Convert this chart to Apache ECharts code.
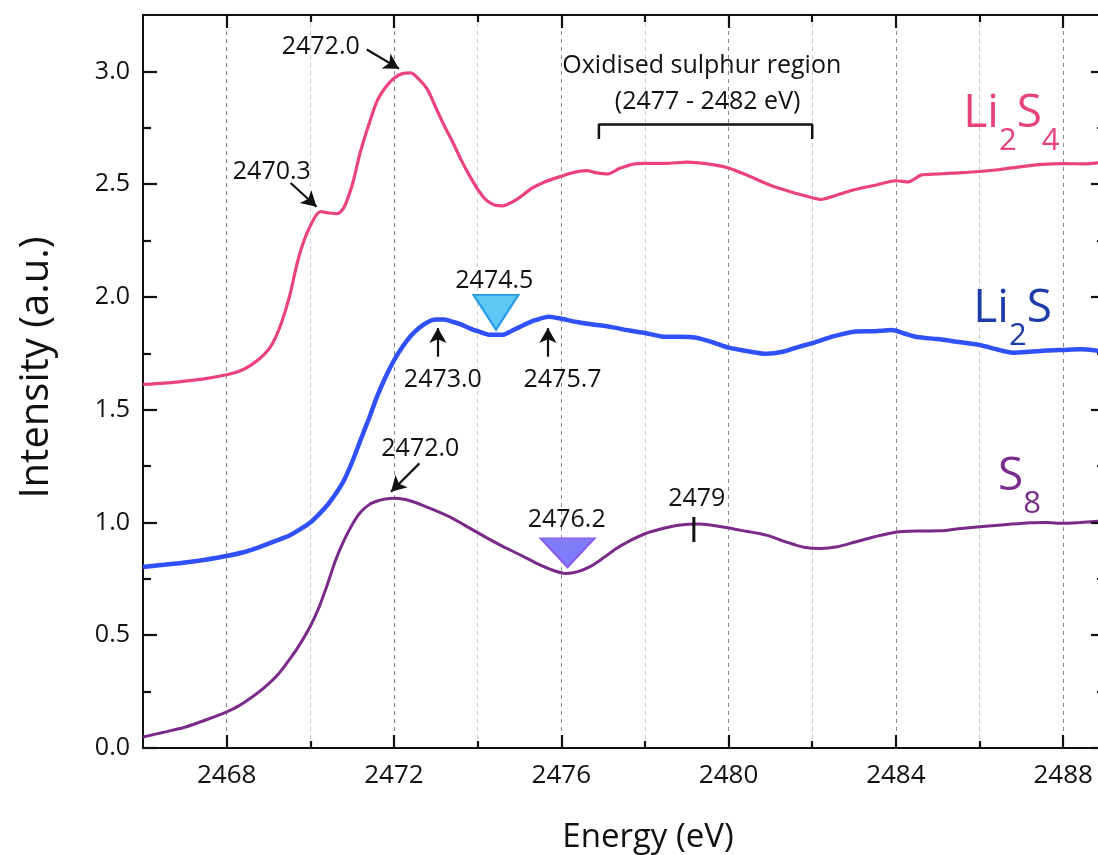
<!DOCTYPE html>
<html><head><meta charset="utf-8">
<script src="https://cdn.jsdelivr.net/npm/echarts@6/dist/echarts.min.js"></script>
<style>html,body{margin:0;padding:0;background:#fff}#c{width:1098px;height:855px}</style>
</head><body><div id="c"></div>
<script>
// ---- data (Energy eV, Intensity a.u.) ----
const li2s4 = [
[2466.0,1.612],[2466.5,1.618],[2467.0,1.627],[2467.5,1.638],[2468.0,1.655],[2468.3,1.670],[2468.6,1.700],[2468.9,1.745],
[2469.1,1.795],[2469.3,1.880],[2469.5,2.000],[2469.7,2.160],[2469.85,2.250],[2470.0,2.315],[2470.15,2.365],[2470.25,2.378],
[2470.45,2.372],[2470.65,2.369],[2470.8,2.395],[2471.0,2.495],[2471.2,2.645],[2471.4,2.765],[2471.6,2.870],[2471.8,2.930],
[2472.0,2.970],[2472.2,2.990],[2472.4,2.993],[2472.6,2.965],[2472.8,2.920],[2473.0,2.840],[2473.2,2.760],[2473.4,2.688],
[2473.6,2.610],[2473.8,2.540],[2474.0,2.478],[2474.2,2.430],[2474.4,2.408],[2474.6,2.404],[2474.8,2.418],[2475.0,2.440],
[2475.3,2.482],[2475.6,2.510],[2476.0,2.535],[2476.3,2.552],[2476.6,2.560],[2476.85,2.550],[2477.1,2.545],[2477.4,2.570],
[2477.7,2.588],[2478.0,2.592],[2478.5,2.592],[2479.0,2.598],[2479.5,2.590],[2480.0,2.572],[2480.5,2.535],[2481.0,2.495],
[2481.5,2.465],[2482.0,2.440],[2482.2,2.432],[2482.6,2.452],[2483.0,2.475],[2483.5,2.495],[2484.0,2.515],[2484.3,2.510],
[2484.6,2.540],[2485.0,2.545],[2485.5,2.550],[2486.0,2.556],[2486.5,2.565],[2487.0,2.578],[2487.5,2.588],[2488.0,2.591],
[2488.5,2.590],[2489.0,2.598]
];
const li2s = [
[2466.0,0.803],[2466.5,0.812],[2467.0,0.822],[2467.5,0.835],[2468.0,0.851],[2468.4,0.868],[2468.8,0.892],[2469.2,0.920],
[2469.5,0.942],[2469.8,0.975],[2470.0,1.000],[2470.2,1.035],[2470.4,1.075],[2470.6,1.125],[2470.8,1.185],[2471.0,1.268],
[2471.2,1.365],[2471.4,1.460],[2471.6,1.560],[2471.8,1.645],[2472.0,1.718],[2472.2,1.778],[2472.4,1.827],[2472.6,1.862],
[2472.8,1.888],[2473.0,1.900],[2473.2,1.900],[2473.4,1.890],[2473.6,1.878],[2473.8,1.862],[2474.0,1.848],[2474.3,1.832],
[2474.6,1.832],[2474.8,1.848],[2475.0,1.866],[2475.2,1.884],[2475.4,1.898],[2475.7,1.912],[2476.0,1.903],[2476.4,1.888],
[2476.8,1.877],[2477.2,1.866],[2477.6,1.852],[2478.0,1.840],[2478.5,1.823],[2478.8,1.823],[2479.2,1.820],[2479.6,1.800],
[2480.0,1.775],[2480.5,1.758],[2480.9,1.748],[2481.3,1.757],[2481.7,1.780],[2482.0,1.795],[2482.5,1.825],[2483.0,1.846],
[2483.5,1.848],[2483.9,1.853],[2484.2,1.838],[2484.5,1.822],[2485.0,1.813],[2485.5,1.800],[2486.0,1.787],[2486.4,1.768],
[2486.8,1.753],[2487.2,1.757],[2487.6,1.762],[2488.0,1.765],[2488.4,1.768],[2489.0,1.758]
];
const s8 = [
[2466.0,0.049],[2466.5,0.070],[2467.0,0.092],[2467.5,0.124],[2468.0,0.160],[2468.3,0.188],[2468.6,0.225],[2468.9,0.268],
[2469.2,0.320],[2469.5,0.392],[2469.7,0.445],[2470.0,0.540],[2470.2,0.620],[2470.4,0.720],[2470.6,0.830],[2470.8,0.918],
[2471.0,0.990],[2471.2,1.045],[2471.4,1.078],[2471.6,1.095],[2471.8,1.104],[2472.0,1.107],[2472.2,1.104],[2472.4,1.095],
[2472.7,1.075],[2473.0,1.052],[2473.4,1.018],[2473.8,0.976],[2474.2,0.934],[2474.6,0.894],[2475.0,0.858],[2475.4,0.820],
[2475.8,0.788],[2476.1,0.774],[2476.4,0.782],[2476.7,0.805],[2477.0,0.842],[2477.3,0.882],[2477.6,0.915],[2478.0,0.950],
[2478.4,0.972],[2478.8,0.988],[2479.3,0.993],[2479.8,0.982],[2480.3,0.965],[2480.9,0.944],[2481.4,0.912],[2481.8,0.890],
[2482.2,0.884],[2482.6,0.892],[2483.0,0.912],[2483.5,0.937],[2484.0,0.957],[2484.5,0.962],[2485.1,0.963],[2485.5,0.972],
[2486.0,0.981],[2486.6,0.990],[2487.2,0.999],[2487.6,1.000],[2488.0,0.996],[2488.4,1.000],[2489.0,1.008]
];
// ---- axis ticks ----
const xMajorTicks = [2468, 2472, 2476, 2480, 2484, 2488];
const xMinorTicks = [2470, 2474, 2478, 2482, 2486];
const yMajorTicks = [0, 0.5, 1.0, 1.5, 2.0, 2.5, 3.0];
const yMinorTicks = [0.25, 0.75, 1.25, 1.75, 2.25, 2.75];
// ---- annotations (data coordinates) ----
const annotTexts = [
  {text:'2472.0', at:[2470.25, 3.11]},
  {text:'2470.3', at:[2469.08, 2.555]},
  {text:'Oxidised sulphur region', at:[2479.36, 3.025]},
  {text:'(2477 - 2482 eV)', at:[2479.5, 2.865]},
  {text:'2474.5', at:[2474.4, 2.072]},
  {text:'2473.0', at:[2473.17, 1.633]},
  {text:'2475.7', at:[2476.03, 1.633]},
  {text:'2472.0', at:[2472.63, 1.328]},
  {text:'2476.2', at:[2476.13, 1.012]},
  {text:'2479', at:[2479.24, 1.103]}
];
const arrows = [
  [[2471.35, 3.097], [2472.12, 3.012]],
  [[2469.53, 2.505], [2470.15, 2.40]],
  [[2473.05, 1.735], [2473.05, 1.862]],
  [[2475.68, 1.735], [2475.68, 1.862]],
  [[2472.61, 1.262], [2471.93, 1.136]]
];
const bracket = [[2476.9, 2.70], [2476.9, 2.764], [2482.0, 2.764], [2482.0, 2.70]];
const tick2479 = [[2479.17, 1.024], [2479.17, 0.913]];
const triangles = [
  {at:[2474.44, 1.932], size:[45, 35], fill:'#5CC8F6', border:'#2A9BE6'},
  {at:[2476.15, 0.866], size:[54, 29], fill:'#7F7DF7', border:'#8B5CF0'}
];
const seriesLabels = [
  {rich:'{m|Li}{s|2}{m|S}{s|4}', at:[2485.6, 2.812], color:'#E8427C'},
  {rich:'{m|Li}{s|2}{m|S}', at:[2485.84, 1.945], color:'#1E3BAA'},
  {rich:'{m|S}{s|8}', at:[2486.43, 1.2], color:'#7B2D8B'}
];

const FONT = '"Open Sans", Lato, sans-serif';
const INK = '#111';
const GRID = {left:143, top:15, width:962, height:733};
const xMin = 2466, xMax = 2489, yMin = 0, yMax = 3.25;
const perPxX = (xMax - xMin) / GRID.width, perPxY = (yMax - yMin) / GRID.height;

// tick marks on all four sides, pointing inward (as data-space segments)
const tickSegs = [];
function addX(v, len) {
  tickSegs.push([{coord:[v, yMin]}, {coord:[v, yMin + len * perPxY]}]);
  tickSegs.push([{coord:[v, yMax]}, {coord:[v, yMax - len * perPxY]}]);
}
function addY(v, len) {
  tickSegs.push([{coord:[xMin, v]}, {coord:[xMin + len * perPxX, v]}]);
  tickSegs.push([{coord:[xMax, v]}, {coord:[xMax - len * perPxX, v]}]);
}
xMajorTicks.forEach(v => addX(v, 13));
xMinorTicks.forEach(v => addX(v, 7));
yMajorTicks.forEach(v => addY(v, 14));
yMinorTicks.forEach(v => addY(v, 8));

const chart = echarts.init(document.getElementById('c'));

const markTextData = annotTexts.map(a => ({
  coord:a.at, symbol:'circle', symbolSize:1, itemStyle:{color:'rgba(0,0,0,0)'},
  label:{show:true, position:'inside', formatter:a.text, fontSize:25, color:INK, fontFamily:FONT}
}));
const markTriData = triangles.map(t => ({
  coord:t.at, symbol:'triangle', symbolRotate:180, symbolSize:t.size,
  itemStyle:{color:t.fill, borderColor:t.border, borderWidth:2}, label:{show:false}
}));
const markNameData = seriesLabels.map(l => ({
  coord:l.at, symbol:'circle', symbolSize:1, itemStyle:{color:'rgba(0,0,0,0)'},
  label:{show:true, position:'right', distance:0, formatter:l.rich,
    rich:{m:{fontSize:46, color:l.color, fontFamily:FONT},
          s:{fontSize:31, color:l.color, fontFamily:FONT, padding:[54,0,0,0]}}}
}));

const option = {
  animation:false,
  backgroundColor:'#fff',
  grid:Object.assign({outerBoundsMode:'none', containLabel:false, show:true, borderColor:INK, borderWidth:2,
    backgroundColor:'transparent'}, GRID),
  xAxis:{
    type:'value', min:xMin, max:xMax, interval:2,
    axisLine:{show:true, onZero:false, lineStyle:{color:INK, width:2}},
    axisTick:{show:false},
    axisLabel:{show:true, customValues:xMajorTicks, formatter:v => String(v), fontSize:26, color:INK, fontFamily:FONT, margin:15},
    splitLine:{show:true, lineStyle:{color:['#c8c8c8', '#8a8a8a'], type:[4,4], width:1}},
    name:'Energy (eV)', nameLocation:'middle', nameGap:73,
    nameTextStyle:{fontSize:33, color:INK, fontFamily:FONT, padding:[0,0,0,48]}
  },
  yAxis:{
    type:'value', min:yMin, max:yMax,
    axisLine:{show:true, onZero:false, lineStyle:{color:INK, width:2}},
    axisTick:{show:false},
    axisLabel:{show:true, customValues:yMajorTicks, fontSize:25, color:INK, fontFamily:FONT, margin:13,
      formatter:v => Number(v).toFixed(1)},
    splitLine:{show:false},
    name:'Intensity (a.u.)', nameLocation:'middle', nameGap:86, nameRotate:90,
    nameTextStyle:{fontSize:40, color:INK, fontFamily:FONT, padding:[0,0,0,28]}
  },
  series:[
    {type:'line', name:'Li2S4', data:li2s4, symbol:'none', smooth:0.25, lineStyle:{color:'#EC4180', width:3.2}, z:3},
    {type:'line', name:'Li2S', data:li2s, symbol:'none', smooth:0.25, lineStyle:{color:'#3050FA', width:4.5}, z:3},
    {type:'line', name:'S8', data:s8, symbol:'none', smooth:0.25, lineStyle:{color:'#7A2A88', width:3}, z:3},
    {type:'line', name:'bracket', data:bracket, symbol:'none', silent:true, lineStyle:{color:INK, width:2.5}, z:4},
    {type:'line', name:'tick2479', data:tick2479, symbol:'none', silent:true, lineStyle:{color:INK, width:3}, z:4},
    {type:'line', name:'axisTicks', data:[], symbol:'none', silent:true, clip:false, z:6,
      markLine:{silent:true, animation:false, symbol:['none','none'], lineStyle:{color:INK, width:2.2, type:'solid'},
        label:{show:false}, emphasis:{disabled:true}, data:tickSegs}},
    {type:'line', name:'annot', data:[], symbol:'none', silent:true, clip:false, z:5,
      markLine:{silent:true, animation:false, symbol:['none','arrow'], symbolSize:[13,15],
        lineStyle:{color:INK, width:2.2, type:'solid'}, label:{show:false},
        emphasis:{disabled:true},
        data:arrows.map(a => [{coord:a[0]}, {coord:a[1]}])},
      markPoint:{silent:true, animation:false, data:markTriData.concat(markTextData, markNameData)}
    }
  ]
};
chart.setOption(option);
</script>
</body></html>
